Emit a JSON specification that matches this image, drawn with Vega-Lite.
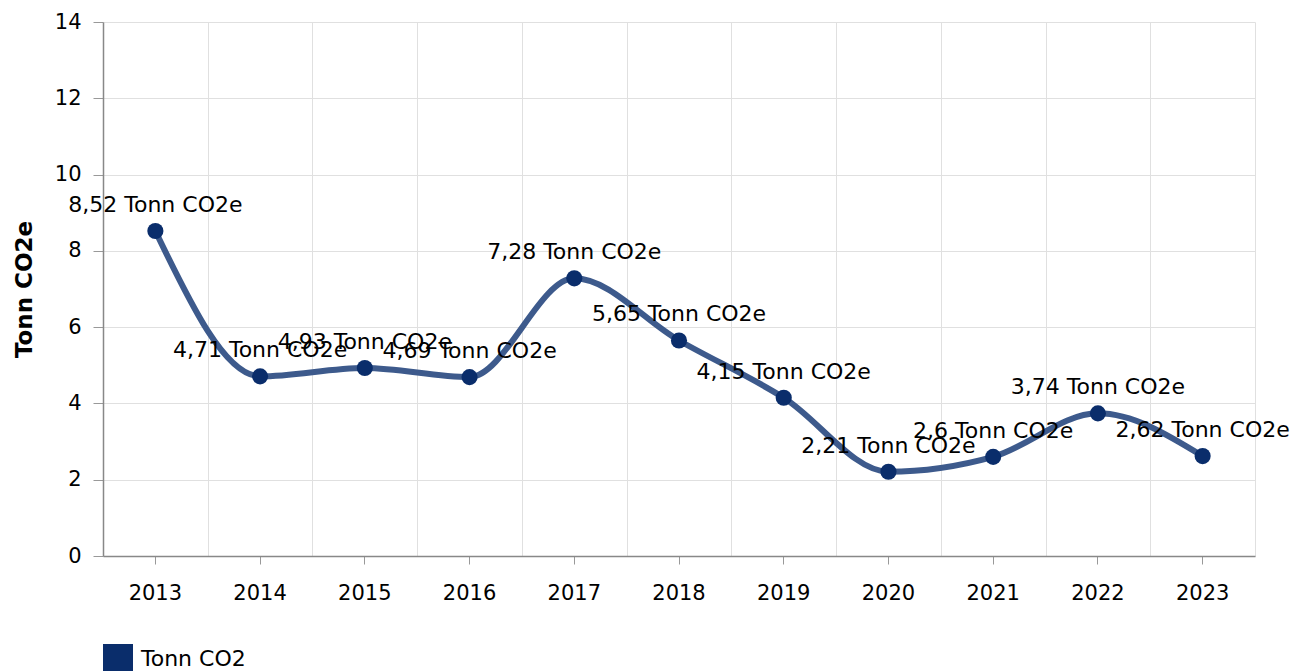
{
  "$schema": "https://vega.github.io/schema/vega-lite/v6.json",
  "autosize": "none",
  "width": 1152,
  "height": 534,
  "padding": {"left": 103, "top": 22, "right": 37, "bottom": 115},
  "background": "white",
  "config": {
    "font": "DejaVu Sans",
    "view": {"stroke": null},
    "axis": {"labelFont": "DejaVu Sans", "labelFontSize": 21, "labelColor": "#000", "titleFont": "DejaVu Sans", "gridColor": "#e0e0e0", "gridWidth": 1, "domainColor": "#888", "tickColor": "#999"},
    "legend": {"labelFont": "DejaVu Sans", "labelFontSize": 22, "labelColor": "#000"}
  },
  "data": {"values": [
    {"year": "2013", "value": 8.52, "label": "8,52 Tonn CO2e", "series": "Tonn CO2"},
    {"year": "2014", "value": 4.71, "label": "4,71 Tonn CO2e", "series": "Tonn CO2"},
    {"year": "2015", "value": 4.93, "label": "4,93 Tonn CO2e", "series": "Tonn CO2"},
    {"year": "2016", "value": 4.69, "label": "4,69 Tonn CO2e", "series": "Tonn CO2"},
    {"year": "2017", "value": 7.28, "label": "7,28 Tonn CO2e", "series": "Tonn CO2"},
    {"year": "2018", "value": 5.65, "label": "5,65 Tonn CO2e", "series": "Tonn CO2"},
    {"year": "2019", "value": 4.15, "label": "4,15 Tonn CO2e", "series": "Tonn CO2"},
    {"year": "2020", "value": 2.21, "label": "2,21 Tonn CO2e", "series": "Tonn CO2"},
    {"year": "2021", "value": 2.6, "label": "2,6 Tonn CO2e", "series": "Tonn CO2"},
    {"year": "2022", "value": 3.74, "label": "3,74 Tonn CO2e", "series": "Tonn CO2"},
    {"year": "2023", "value": 2.62, "label": "2,62 Tonn CO2e", "series": "Tonn CO2"}
  ]},
  "resolve": {"axis": {"x": "independent", "y": "independent"}},
  "layer": [
    {
      "mark": {"type": "line", "interpolate": "monotone", "strokeWidth": 6, "color": "#3d5a8c"},
      "encoding": {
        "x": {"field": "year", "type": "ordinal", "scale": {"type": "band", "paddingInner": 0, "paddingOuter": 0},
              "axis": {"orient": "top", "grid": true, "tickBand": "extent", "ticks": false, "labels": false, "domain": false, "title": null}},
        "y": {"field": "value", "type": "quantitative", "scale": {"domain": [0, 14]},
              "axis": {"orient": "left", "grid": true, "values": [0, 2, 4, 6, 8, 10, 12, 14], "tickSize": 10, "labelPadding": 12, "domainColor": "#888", "domainWidth": 1.5,
                       "title": "Tonn CO2e", "titleFontSize": 23, "titleFontWeight": "bold", "titleColor": "#000", "titlePadding": 18}}
      }
    },
    {
      "mark": {"type": "point", "filled": true, "size": 260, "opacity": 1},
      "encoding": {
        "x": {"field": "year", "type": "ordinal",
              "axis": {"orient": "bottom", "grid": false, "tickSize": 8, "labelPadding": 18, "labelAngle": 0, "domainColor": "#888", "domainWidth": 1.5, "title": null}},
        "y": {"field": "value", "type": "quantitative", "axis": null},
        "color": {"field": "series", "type": "nominal", "scale": {"range": ["#0a2d6b"]},
                  "legend": {"title": null, "orient": "none", "legendX": 0, "legendY": 622, "symbolType": "square", "symbolSize": 900, "symbolStrokeWidth": 0, "labelOffset": 8}}
      }
    },
    {
      "mark": {"type": "text", "fontSize": 22, "dy": -26, "baseline": "middle", "align": "center", "color": "#000"},
      "encoding": {
        "x": {"field": "year", "type": "ordinal", "axis": null},
        "y": {"field": "value", "type": "quantitative", "axis": null},
        "text": {"field": "label"}
      }
    }
  ]
}
